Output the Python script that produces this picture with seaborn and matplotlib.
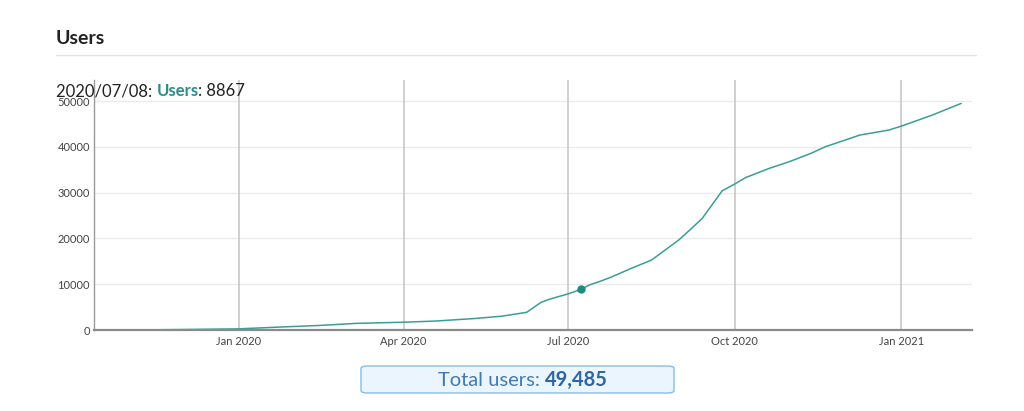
import matplotlib
matplotlib.use("Agg")
import matplotlib.pyplot as plt
import matplotlib.dates as mdates
from matplotlib.patches import FancyBboxPatch
import pandas as pd
import seaborn as sns

dates = ["2019-10-18", "2019-11-15", "2019-12-01", "2020-01-01", "2020-01-24",
         "2020-02-15", "2020-03-06", "2020-04-01", "2020-04-19", "2020-05-10",
         "2020-05-25", "2020-06-08", "2020-06-16", "2020-06-21", "2020-07-01",
         "2020-07-08", "2020-07-13", "2020-07-18", "2020-07-25", "2020-08-05",
         "2020-08-16", "2020-08-31", "2020-09-06", "2020-09-13", "2020-09-24",
         "2020-10-01", "2020-10-07", "2020-10-20", "2020-10-31", "2020-11-12",
         "2020-11-20", "2020-12-09", "2020-12-25", "2021-01-01", "2021-01-18",
         "2021-02-03"]
users = [0, 40, 100, 250, 650,
         1000, 1450, 1700, 1960, 2500,
         3000, 3860, 6050, 6770, 7900,
         8867, 9900, 10540, 11600, 13500,
         15280, 19650, 21800, 24380, 30400,
         31900, 33300, 35300, 36750, 38570,
         40020, 42570, 43660, 44530, 46930,
         49485]
highlight_date = "2020-07-08"
highlight_value = 8867
total_users = 49485
y_ticks = [0, 10000, 20000, 30000, 40000, 50000]

sns.set_style("white")
plt.rcParams['font.family'] = ['Lato', 'DejaVu Sans']

df = pd.DataFrame({"date": pd.to_datetime(dates), "users": users})

fig = plt.figure(figsize=(10.24, 4.11), dpi=100)
ax = fig.add_axes([94/1024, 1-330/411, (972-94)/1024, (330-80)/411])

teal = "#3a9e97"
sns.lineplot(data=df, x="date", y="users", ax=ax, color=teal, linewidth=1.1)
ax.plot(pd.to_datetime([highlight_date]), [highlight_value], "o", color="#1f8a82",
        markersize=5, zorder=5)

ax.set_xlim(pd.Timestamp("2019-10-13"), pd.Timestamp("2021-02-09"))
ax.set_ylim(0, 54600)
ax.set_yticks(y_ticks)
ax.set_yticklabels([str(v) for v in y_ticks])
ax.xaxis.set_major_locator(mdates.MonthLocator(bymonth=[1, 4, 7, 10]))
ax.xaxis.set_major_formatter(mdates.DateFormatter("%b %Y"))
ax.set_xlabel("")
ax.set_ylabel("")

# grids
for t in y_ticks[1:]:
    ax.axhline(t, color="#ebebeb", linewidth=1, zorder=0)
ax.grid(axis="x", color="#c8c8c8", linewidth=1.2, zorder=0)
ax.set_axisbelow(True)

for s in ["top", "right"]:
    ax.spines[s].set_visible(False)
ax.spines["left"].set_color("#9a9a9a")
ax.spines["left"].set_linewidth(1.0)
ax.spines["bottom"].set_color("#8a8a8a")
ax.spines["bottom"].set_linewidth(1.6)
ax.tick_params(axis="both", labelsize=8, colors="#444444", length=0, pad=4)
ax.tick_params(axis="y", pad=3)

# title and rule
fig.text(56/1024, 1-38/411, "Users", fontsize=14, fontweight="bold",
         color="#222222", va="center", ha="left")
fig.add_artist(plt.Line2D([56/1024, 976/1024], [1-55/411, 1-55/411],
                          color="#e3e3e3", linewidth=1))

# tooltip text (multi-colored)
fig.canvas.draw()
renderer = fig.canvas.get_renderer()
x0 = 56/1024
yt = 1-91/411
parts = [("2020/07/08: ", "#222222", "normal"),
         ("Users", "#2a8f88", "bold"),
         (": " + str(highlight_value), "#222222", "normal")]
for txt, col, w in parts:
    t = fig.text(x0, yt, txt, fontsize=12, color=col, fontweight=w,
                 va="center", ha="left")
    bb = t.get_window_extent(renderer=renderer)
    x0 += bb.width / fig.bbox.width

# total box
box = FancyBboxPatch((361/1024, 1-393/411), (674-361)/1024, (393-366)/411,
                     boxstyle="round,pad=0,rounding_size=0.006",
                     transform=fig.transFigure, facecolor="#eaf5fd",
                     edgecolor="#86bde6", linewidth=1)
fig.add_artist(box)
t1 = fig.text(0, 0, "Total users: ", fontsize=14.5, color="#4279b3")
t2 = fig.text(0, 0, f"{total_users:,}", fontsize=14.5, color="#2f65a3", fontweight="bold")
w1 = t1.get_window_extent(renderer=renderer).width / fig.bbox.width
w2 = t2.get_window_extent(renderer=renderer).width / fig.bbox.width
cx = 523/1024
start = cx - (w1 + w2) / 2
yb = 1-380/411
t1.set_position((start, yb)); t1.set_va("center")
t2.set_position((start + w1, yb)); t2.set_va("center")

fig.savefig("out.png", dpi=100)
